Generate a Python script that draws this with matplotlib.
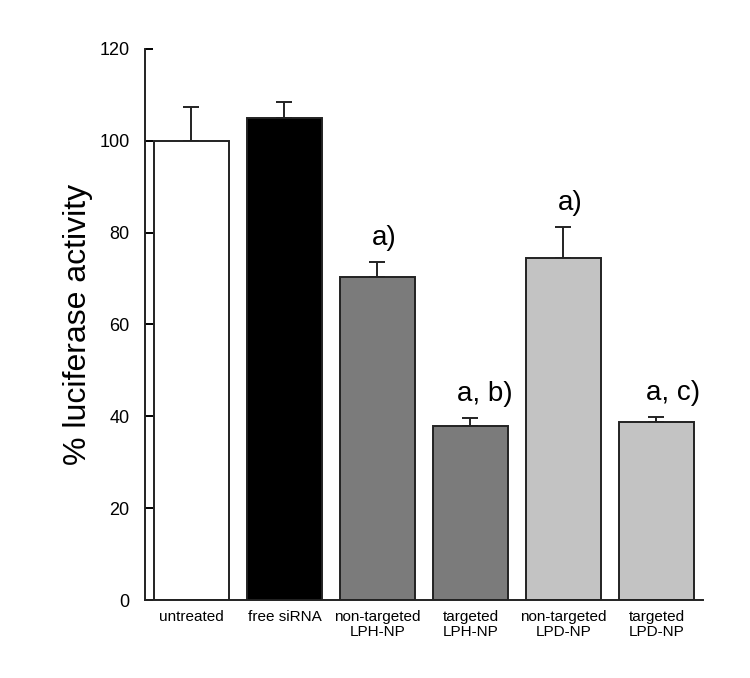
import matplotlib
matplotlib.use("Agg")
import matplotlib.pyplot as plt
import numpy as np

categories = ["untreated", "free siRNA", "non-targeted\nLPH-NP", "targeted\nLPH-NP",
              "non-targeted\nLPD-NP", "targeted\nLPD-NP"]
values = [100.0, 104.9, 70.4, 38.0, 74.5, 38.8]
errors = [7.3, 3.6, 3.1, 1.7, 6.8, 1.1]
annotations = ["", "", "a)", "a, b)", "a)", "a, c)"]
colors = ["#ffffff", "#000000", "#7b7b7b", "#7b7b7b", "#c3c3c3", "#c3c3c3"]
yticks = [0, 20, 40, 60, 80, 100, 120]

plt.rcParams['font.family'] = ['Liberation Sans', 'DejaVu Sans']

fig = plt.figure(figsize=(7.5, 6.78), dpi=100)
ax = fig.add_axes([0.1933, 0.115, 0.744, 0.8128])

x = np.arange(len(categories))
ax.bar(x, values, width=0.8, color=colors, edgecolor="#222222", linewidth=1.4, zorder=2)
ax.errorbar(x, values, yerr=[np.zeros(len(errors)), errors], fmt="none",
            ecolor="#222222", elinewidth=1.4, capsize=6, capthick=1.4, zorder=1)

x_shift = [0, 0, 5, 10, 5, 12]
for i, (v, e, t) in enumerate(zip(values, errors, annotations)):
    if t:
        ax.annotate(t, xy=(i, v + e), xytext=(x_shift[i], 8), textcoords="offset points",
                    ha="center", va="bottom", fontsize=20)

ax.set_xlim(-0.5, 5.5)
ax.set_ylim(0, 120)
ax.set_yticks(yticks)
ax.set_xticks(x)
ax.set_xticklabels(categories, fontsize=11, linespacing=1.15)
ax.tick_params(axis="x", length=0, pad=7)
ax.tick_params(axis="y", direction="in", length=6, width=1.4, labelsize=13, pad=11)
ax.set_ylabel("% luciferase activity", fontsize=23, labelpad=5)

for s in ["top", "right"]:
    ax.spines[s].set_visible(False)
for s in ["left", "bottom"]:
    ax.spines[s].set_linewidth(1.4)
    ax.spines[s].set_color("#222222")

fig.savefig("out.png", dpi=100)
